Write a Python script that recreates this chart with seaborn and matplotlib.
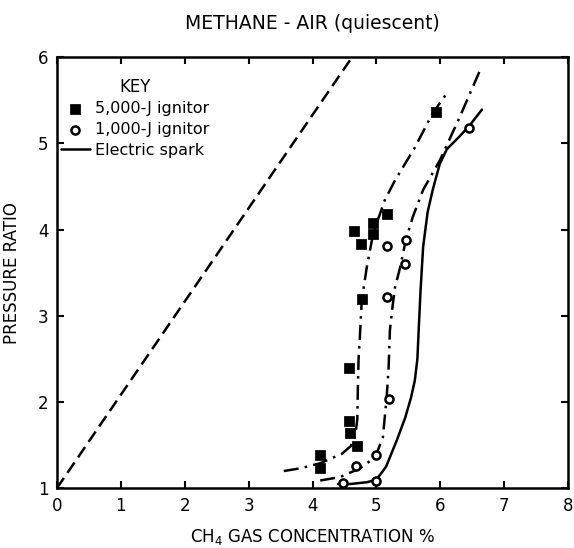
import matplotlib
matplotlib.use("Agg")
import matplotlib.pyplot as plt
import seaborn as sns

# data
sq_x = [4.65, 5.16, 4.95, 4.95, 4.76, 4.77, 5.93, 4.57, 4.57, 4.59, 4.69, 4.12, 4.12]
sq_y = [3.98, 4.18, 4.07, 3.95, 3.83, 3.19, 5.36, 2.39, 1.78, 1.64, 1.49, 1.38, 1.24]

circ_x = [5.16, 5.46, 5.45, 5.16, 5.20, 4.99, 4.68, 4.48, 5.00, 6.45]
circ_y = [3.81, 3.88, 3.60, 3.22, 2.04, 1.38, 1.26, 1.06, 1.09, 5.18]

# 5,000-J fitted curve (dash-dot)
c5_x = [3.55, 3.80, 4.12, 4.46, 4.60, 4.67, 4.70, 4.71, 4.72, 4.74, 4.77, 4.85,
        4.95, 5.13, 5.29, 5.60, 5.88, 6.12]
c5_y = [1.20, 1.23, 1.29, 1.40, 1.49, 1.62, 1.80, 2.20, 2.50, 2.75, 3.18, 3.57,
        3.96, 4.34, 4.57, 4.95, 5.35, 5.60]

# 1,000-J fitted curve (dash-dot)
c1_x = [4.12, 4.43, 4.74, 4.98, 5.10, 5.16, 5.19, 5.21, 5.25, 5.29, 5.37, 5.46,
        5.57, 5.73, 5.99, 6.30, 6.64]
c1_y = [1.09, 1.13, 1.23, 1.36, 1.59, 2.06, 2.40, 2.83, 3.10, 3.33, 3.56, 3.88,
        4.15, 4.46, 4.80, 5.30, 5.88]

# electric spark curve (solid)
sp_x = [4.40, 4.60, 4.85, 5.00, 5.15, 5.32, 5.45, 5.54, 5.60, 5.64, 5.66, 5.69,
        5.73, 5.80, 5.88, 5.99, 6.10, 6.30, 6.45, 6.65]
sp_y = [1.05, 1.05, 1.07, 1.10, 1.25, 1.56, 1.82, 2.05, 2.25, 2.50, 2.83, 3.30,
        3.80, 4.20, 4.46, 4.76, 4.93, 5.08, 5.20, 5.39]

# dashed reference line
ref_x = [0.0, 4.62]
ref_y = [1.0, 6.0]

x_ticks = [0, 1, 2, 3, 4, 5, 6, 7, 8]
x_labels = ["0", "1", "2", "3", "4", "5", "6", "7", "8"]
y_ticks = [1, 2, 3, 4, 5, 6]

sns.set_theme(style="ticks")
plt.rcParams["font.family"] = ["DejaVu Sans"]
plt.rcParams["text.color"] = "black"
plt.rcParams["axes.labelcolor"] = "black"
plt.rcParams["xtick.color"] = "black"
plt.rcParams["ytick.color"] = "black"

fig = plt.figure(figsize=(5.74, 5.48), dpi=100)
ax = fig.add_axes([0.099, 0.109, 0.891, 0.787])

dashdot = (0, (6, 2.5, 1, 2.5))
sns.lineplot(x=ref_x, y=ref_y, ax=ax, color="black", lw=1.8,
             linestyle=(0, (5, 2.5)), sort=False, estimator=None)
sns.lineplot(x=c5_x, y=c5_y, ax=ax, color="black", lw=1.8,
             linestyle=dashdot, sort=False, estimator=None)
sns.lineplot(x=c1_x, y=c1_y, ax=ax, color="black", lw=1.8,
             linestyle=dashdot, sort=False, estimator=None)
sns.lineplot(x=sp_x, y=sp_y, ax=ax, color="black", lw=1.8,
             sort=False, estimator=None, label="Electric spark")

sns.scatterplot(x=sq_x, y=sq_y, ax=ax, marker="s", s=45, color="black",
                edgecolor="black", label="5,000-J ignitor", zorder=5)
sns.scatterplot(x=circ_x, y=circ_y, ax=ax, marker="o", s=34, facecolor="white",
                edgecolor="black", linewidth=1.8, label="1,000-J ignitor", zorder=5)

ax.set_xlim(0, 8)
ax.set_ylim(1, 6)
ax.set_xticks(x_ticks)
ax.set_xticklabels(x_labels)
ax.set_yticks(y_ticks)
ax.tick_params(direction="in", length=5, width=1.5, top=True, right=True,
               labelsize=12, colors="black", pad=6)
for sp in ax.spines.values():
    sp.set_linewidth(1.8)
    sp.set_color("black")

ax.set_xlabel("CH$_4$ GAS CONCENTRATION %", fontsize=12, labelpad=9)
ax.set_ylabel("PRESSURE RATIO", fontsize=12, labelpad=12)
ax.set_title("METHANE - AIR (quiescent)", fontsize=13.5, pad=20)

h, l = ax.get_legend_handles_labels()
order = [l.index("5,000-J ignitor"), l.index("1,000-J ignitor"), l.index("Electric spark")]
leg = ax.legend([h[i] for i in order], [l[i] for i in order], title="KEY",
                loc="upper left", bbox_to_anchor=(-0.02, 0.985), frameon=False,
                fontsize=11.5, title_fontsize=12, handlelength=1.8,
                handletextpad=0.3, labelspacing=0.35)

fig.savefig("out.png", dpi=100)
